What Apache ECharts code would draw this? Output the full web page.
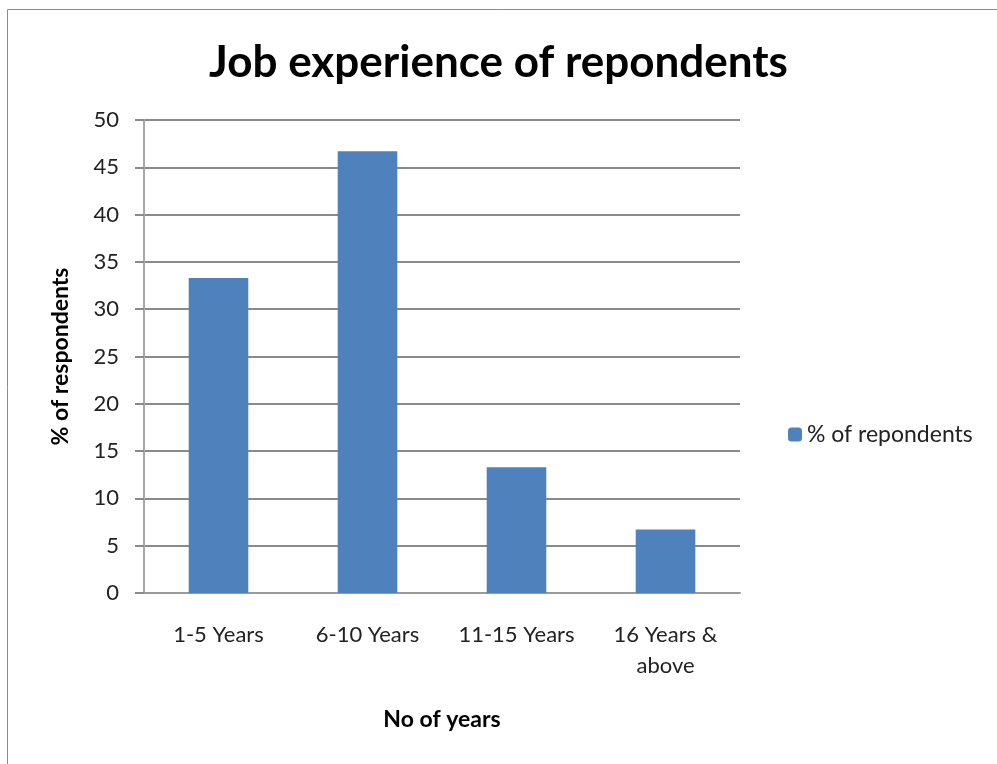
<!DOCTYPE html>
<html><head><meta charset="utf-8">
<script src="https://cdn.jsdelivr.net/npm/echarts@6/dist/echarts.min.js"></script>
<style>html,body{margin:0;padding:0;background:#fff}#c{width:997px;height:764px}</style>
</head><body><div id="c"></div>
<script>
const categories = ['1-5 Years', '6-10 Years', '11-15 Years', '16 Years &\nabove'];
const values = [33.3, 46.7, 13.3, 6.7];
const seriesName = '% of repondents';
const chart = echarts.init(document.getElementById('c'));
chart.setOption({
  animation: false,
  backgroundColor: '#fff',
  graphic: [{type: 'rect', left: 5, top: 7, shape: {width: 1000, height: 800}, style: {fill: 'none', stroke: '#8c8c8c', lineWidth: 1}}],
  title: {text: 'Job experience of repondents', left: 'center', top: 36, itemGap: 0,
    textStyle: {fontFamily: 'Lato', fontWeight: 'bold', fontSize: 44, color: '#000'}},
  legend: {orient: 'vertical', left: 783, top: 418, itemWidth: 14, itemHeight: 14, itemGap: 6,
    textStyle: {fontFamily: 'Lato', fontSize: 23, color: '#222'}, data: [seriesName]},
  grid: {left: 144, right: 257, top: 120, bottom: 171},
  xAxis: {type: 'category', data: categories, name: 'No of years', nameLocation: 'middle', nameGap: 115,
    nameTextStyle: {fontFamily: 'Lato', fontWeight: 'bold', fontSize: 23, color: '#000'},
    axisLine: {lineStyle: {color: '#9a9a9a', width: 2}}, axisTick: {show: false},
    axisLabel: {fontFamily: 'Lato', fontSize: 22, color: '#222', margin: 26, lineHeight: 31, interval: 0}},
  yAxis: {type: 'value', min: 0, max: 50, interval: 5, name: '% of respondents', nameLocation: 'middle', nameGap: 72,
    nameTextStyle: {fontFamily: 'Lato', fontWeight: 'bold', fontSize: 23, color: '#000'},
    axisLine: {show: true, lineStyle: {color: '#a8a8a8', width: 2}},
    axisTick: {show: true, length: 9, lineStyle: {color: '#8a8a8a', width: 2}},
    splitLine: {lineStyle: {color: '#8a8a8a', width: 2}},
    axisLabel: {fontFamily: 'Lato', fontSize: 22, color: '#222', margin: 25}},
  series: [{name: seriesName, type: 'bar', data: values, barWidth: '40%',
    itemStyle: {color: '#4F81BD'}}]
});
</script></body></html>
